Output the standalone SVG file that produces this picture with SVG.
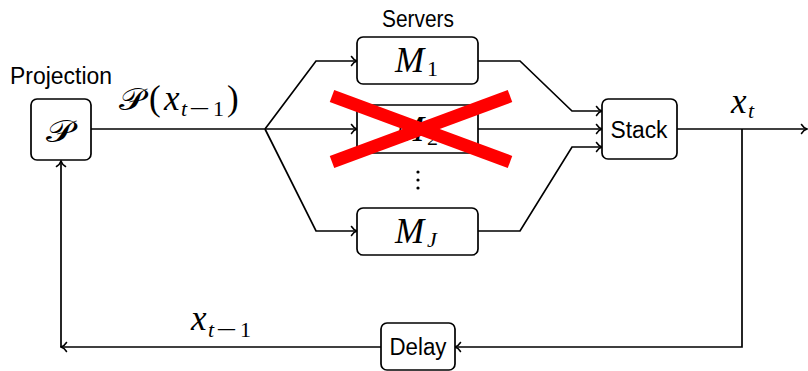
<svg xmlns="http://www.w3.org/2000/svg" width="808" height="371" viewBox="0 0 808 371">
  <style>
    .box { fill: #fff; stroke: #000; stroke-width: 1.7; }
    .wire { fill: none; stroke: #000; stroke-width: 1.7; }
    .arrow { marker-end: url(#tip); }
    .sans { font-family: "Liberation Sans", Arial, sans-serif; font-size: 23px; fill: #000; }
    .math { font-family: "Liberation Serif", "Times New Roman", serif; font-style: italic; font-size: 35px; fill: #000; }
    .cal { font-family: "Liberation Serif", "Times New Roman", serif; font-size: 30px; fill: #000; }
    .sub { font-family: "Liberation Serif", "Times New Roman", serif; font-size: 22px; fill: #000; }
    .subi { font-family: "Liberation Serif", "Times New Roman", serif; font-style: italic; font-size: 22px; fill: #000; }
    .up { font-style: normal; }
    .cross { stroke: #ff0000; stroke-width: 13; stroke-linecap: butt; }
  </style>
  <defs>
    <marker id="tip" viewBox="-7 -6 8 12" markerWidth="8" markerHeight="12" refX="0" refY="0" orient="auto" markerUnits="userSpaceOnUse">
      <path d="M-5.5,-4.5 C-4,-2 -1.5,-0.5 0,0 C-1.5,0.5 -4,2 -5.5,4.5" fill="none" stroke="#000" stroke-width="1.5" stroke-linecap="round"/>
    </marker>
  </defs>

  <!-- connectors -->
  <g id="connectors">
    <path class="wire" d="M91,129 H265"/>
    <path class="wire arrow" d="M265,129 L316,61 H357"/>
    <path class="wire arrow" d="M265,129 H357"/>
    <path class="wire arrow" d="M265,129 L316,231 H357"/>
    <path class="wire arrow" d="M478,61 H520 L572,111 H602"/>
    <path class="wire arrow" d="M478,129 H602"/>
    <path class="wire arrow" d="M478,231 H520 L572,147 H602"/>
    <path class="wire arrow" d="M677,129 H807"/>
    <path class="wire arrow" d="M742,129 V347 H455"/>
    <path class="wire arrow" d="M381,347 H61"/>
    <path class="wire arrow" d="M61,347 V161"/>
  </g>

  <!-- projection block -->
  <g id="projection">
    <text class="sans" x="10" y="84" textLength="102" lengthAdjust="spacingAndGlyphs">Projection</text>
    <rect class="box" x="31" y="99" width="60" height="61" rx="6"/>
    <text class="cal" x="60" y="142" text-anchor="middle" textLength="28" lengthAdjust="spacingAndGlyphs">𝒫</text>
  </g>

  <!-- label on the projected input -->
  <g id="label-proj">
    <text class="cal" x="119" y="110" textLength="26" lengthAdjust="spacingAndGlyphs">𝒫</text>
    <text class="math up" x="149" y="110">(</text>
    <text class="math" x="164" y="110">x</text>
    <text class="subi" x="181" y="116">t</text>
    <text class="sub" x="189" y="116" textLength="21" lengthAdjust="spacingAndGlyphs">−</text>
    <text class="sub" x="213" y="116">1</text>
    <text class="math up" x="227" y="110">)</text>
  </g>

  <text class="sans" x="418" y="27" text-anchor="middle" textLength="72" lengthAdjust="spacingAndGlyphs">Servers</text>

  <g id="server-1">
    <rect class="box" x="357" y="37" width="121" height="47" rx="6"/>
    <text class="math" x="395" y="72">M</text>
    <text class="sub" x="427" y="76">1</text>
  </g>

  <g id="server-2">
    <rect class="box" x="357" y="105" width="121" height="48" rx="1"/>
    <text class="math" x="395" y="140.5">M</text>
    <text class="sub" x="427" y="144.5">2</text>
    <line class="cross" x1="332" y1="96" x2="510" y2="162"/>
    <line class="cross" x1="332" y1="162" x2="510" y2="96"/>
  </g>

  <g id="ellipsis">
    <circle cx="418" cy="172" r="1.6"/>
    <circle cx="418" cy="180" r="1.6"/>
    <circle cx="418" cy="188" r="1.6"/>
  </g>

  <g id="server-J">
    <rect class="box" x="357" y="208" width="121" height="47" rx="6"/>
    <text class="math" x="395" y="243">M</text>
    <text class="subi" x="427" y="247">J</text>
  </g>

  <g id="stack">
    <rect class="box" x="602" y="99" width="75" height="60" rx="6"/>
    <text class="sans" x="639" y="138" text-anchor="middle" textLength="57" lengthAdjust="spacingAndGlyphs">Stack</text>
  </g>

  <g id="label-xt">
    <text class="math" x="731" y="113">x</text>
    <text class="subi" x="748" y="118">t</text>
  </g>

  <g id="delay">
    <rect class="box" x="381" y="323" width="74" height="47" rx="6"/>
    <text class="sans" x="418" y="355" text-anchor="middle" textLength="57" lengthAdjust="spacingAndGlyphs">Delay</text>
  </g>

  <g id="label-prev">
    <text class="math" x="191" y="330">x</text>
    <text class="subi" x="208" y="337">t</text>
    <text class="sub" x="216" y="337" textLength="21" lengthAdjust="spacingAndGlyphs">−</text>
    <text class="sub" x="240" y="337">1</text>
  </g>
</svg>
